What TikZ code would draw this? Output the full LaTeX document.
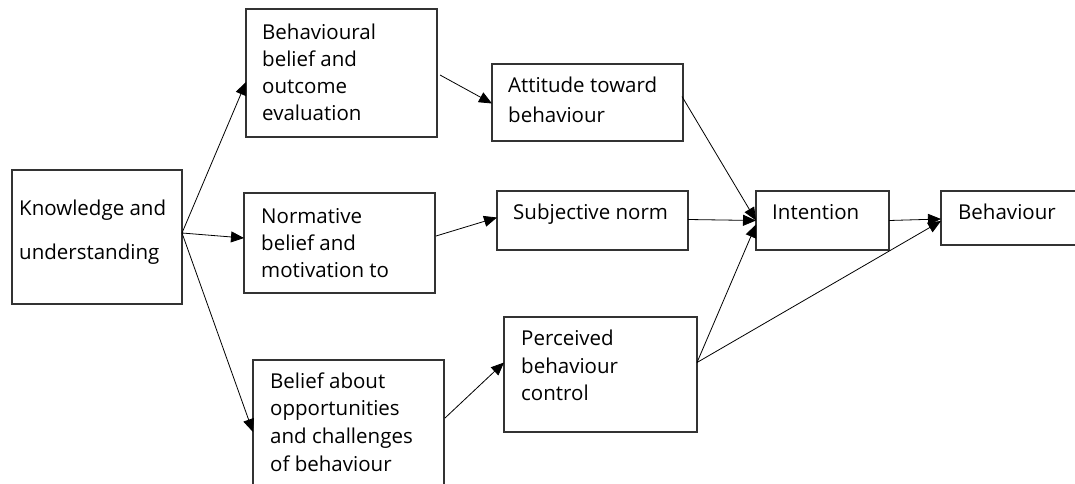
\documentclass[tikz,border=0pt]{standalone}
\usepackage{fontspec}
\setmainfont{Open Sans}
\usetikzlibrary{arrows.meta,calc}
\tikzset{
  box/.style={draw=black!80, line width=1.3pt, anchor=north west, inner sep=0pt, outer sep=0pt},
  txt/.style={anchor=base west, inner sep=0pt, font=\fontsize{20.5}{24}\selectfont, text=black},
  arr/.style={draw=black, line width=0.8pt, -{Triangle[length=13pt,width=11pt]}},
}
\begin{document}
\begin{tikzpicture}[x=1pt,y=1pt]
\clip (0,0) rectangle (1075,-484);
\fill[white] (0,0) rectangle (1075,-484);
% boxes
\node[box, minimum width=170pt, minimum height=134pt] (kn) at (12,-170) {};
\node[box, minimum width=191pt, minimum height=128pt] (bb) at (246,-9) {};
\node[box, minimum width=191pt, minimum height=100pt] (nb) at (244,-193) {};
\node[box, minimum width=191pt, minimum height=140pt] (ba) at (253,-360) {};
\node[box, minimum width=191pt, minimum height=77pt] (at) at (492,-64) {};
\node[box, minimum width=191pt, minimum height=59pt] (sn) at (497,-191) {};
\node[box, minimum width=193pt, minimum height=115pt] (pc) at (504,-317) {};
\node[box, minimum width=133pt, minimum height=59pt] (in) at (756,-191) {};
\node[box, minimum width=150pt, minimum height=54pt] (be) at (941,-191) {};
% texts
\node[txt] (kn1) at (19,-215) {Knowledge and};
\node[txt] (kn2) at (19,-259) {understanding};
\node[txt] (bb1) at (262,-40) {Behavioural};
\node[txt] (bb2) at (262,-67) {belief and};
\node[txt] (bb3) at (262,-94) {outcome};
\node[txt] (bb4) at (262,-121) {evaluation};
\node[txt] (nb1) at (261,-223) {Normative};
\node[txt] (nb2) at (261,-250) {belief and};
\node[txt] (nb3) at (261,-277) {motivation to};
\node[txt] (ba1) at (270,-388) {Belief about};
\node[txt] (ba2) at (270,-415) {opportunities};
\node[txt] (ba3) at (270,-443) {and challenges};
\node[txt] (ba4) at (270,-471) {of behaviour};
\node[txt] (at1) at (508,-93) {Attitude toward};
\node[txt] (at2) at (508,-122) {behaviour};
\node[txt] (sn1) at (513,-219) {Subjective norm};
\node[txt] (pc1) at (521,-345) {Perceived};
\node[txt] (pc2) at (521,-373) {behaviour};
\node[txt] (pc3) at (521,-400) {control};
\node[txt] (in1) at (772,-219) {Intention};
\node[txt] (be1) at (958,-219) {Behaviour};
% connectors
\draw[arr] ([yshift=4pt]kn.east) -- ([yshift=-9pt]bb.west);
\draw[arr] ([yshift=4pt]kn.east) -- ([yshift=5pt]nb.west);
\draw[arr] ([yshift=4pt]kn.east) -- ([yshift=-2pt]ba.west);
\draw[arr] ([xshift=3pt,yshift=-2pt]bb.east) -- ([yshift=-1pt]at.west);
\draw[arr] ([xshift=1pt,yshift=7pt]nb.east) -- ([yshift=3pt]sn.west);
\draw[arr] ([xshift=1pt,yshift=12pt]ba.east) -- ([yshift=12pt]pc.west);
\draw[arr] ([xshift=-1pt,yshift=6pt]at.east) -- ([yshift=0pt]in.west);
\draw[arr] ([yshift=1pt]sn.east) -- ([yshift=0pt]in.west);
\draw[arr] ([yshift=12pt]pc.east) -- ([yshift=-4pt]in.west);
\draw[arr] ([yshift=0pt]in.east) -- ([yshift=-1pt]be.west);
\draw[arr] ([yshift=12pt]pc.east) -- ([yshift=-3pt]be.west);
\end{tikzpicture}
\end{document}
